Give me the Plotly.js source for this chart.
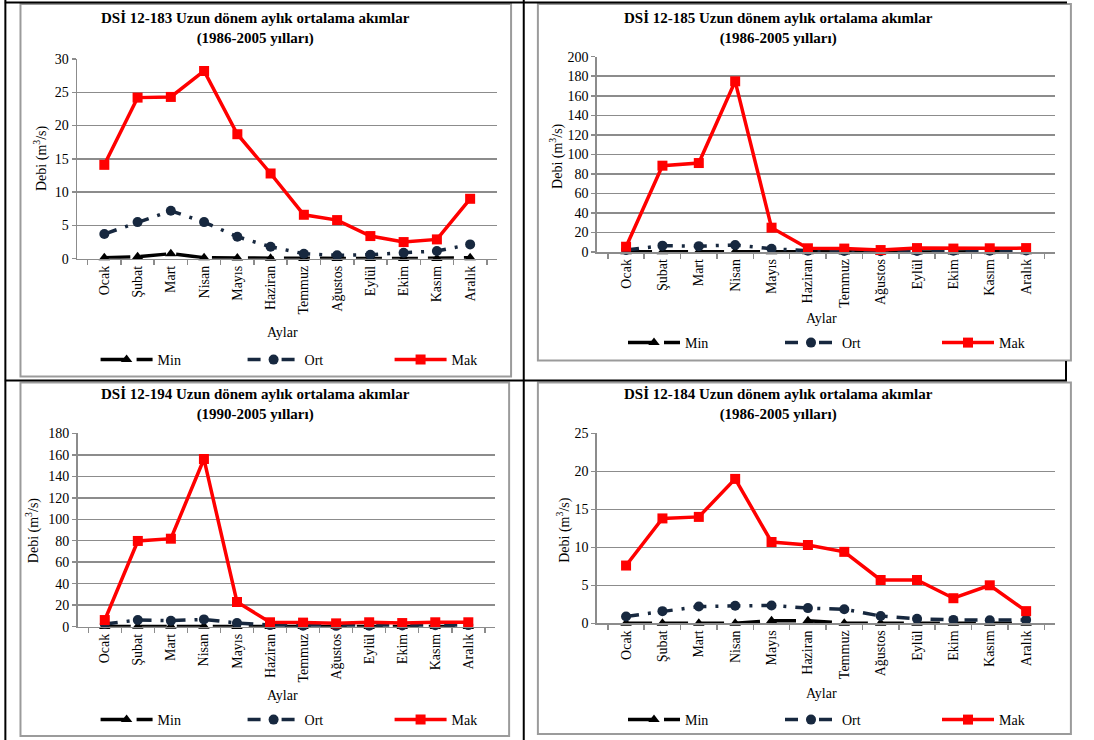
<!DOCTYPE html>
<html>
<head>
<meta charset="utf-8">
<script src="https://cdn.plot.ly/plotly-3.0.1.min.js"></script>
<style>html,body{margin:0;padding:0;background:#fff;}#chart{width:1094px;height:740px;}</style>
</head>
<body>
<div id="chart"></div>
<script>
const months = ['Ocak','Şubat','Mart','Nisan','Mayıs','Haziran','Temmuz','Ağustos','Eylül','Ekim','Kasım','Aralık'];
const seriesNames = ['Min','Ort','Mak'];

// DSİ 12-183
const min183 = [0.15, 0.3, 0.75, 0.15, 0.1, 0.05, 0.02, 0.02, 0.02, 0.02, 0.02, 0.15];
const ort183 = [3.7, 5.5, 7.2, 5.5, 3.3, 1.8, 0.75, 0.5, 0.6, 0.9, 1.15, 2.15];
const mak183 = [14.1, 24.2, 24.3, 28.2, 18.7, 12.8, 6.6, 5.8, 3.4, 2.5, 2.9, 9.0];
// DSİ 12-185
const min185 = [0.2, 0.3, 0.4, 0.5, 0.3, 0.2, 0.1, 0.1, 0.1, 0.1, 0.2, 0.2];
const ort185 = [2.0, 6.5, 6.0, 7.2, 3.4, 1.2, 1.0, 0.8, 1.0, 1.2, 1.3, 1.5];
const mak185 = [5.4, 88.4, 91.1, 174.8, 24.9, 3.8, 3.5, 2.0, 4.0, 3.5, 3.8, 4.0];
// DSİ 12-194
const min194 = [0.3, 0.4, 0.5, 0.5, 0.3, 0.2, 0.1, 0.1, 0.1, 0.1, 0.2, 0.2];
const ort194 = [2.5, 6.2, 5.6, 6.8, 3.4, 1.5, 1.0, 0.8, 1.0, 1.2, 1.3, 1.5];
const mak194 = [6.2, 79.8, 81.9, 156.1, 23.0, 4.1, 3.8, 3.1, 4.1, 3.4, 4.1, 4.1];
// DSİ 12-184
const min184 = [0.02, 0.02, 0.02, 0.02, 0.35, 0.35, 0.02, 0.02, 0.02, 0.02, 0.02, 0.02];
const ort184 = [0.9, 1.6, 2.2, 2.3, 2.35, 2.0, 1.85, 0.95, 0.6, 0.45, 0.4, 0.45];
const mak184 = [7.6, 13.8, 14.0, 19.0, 10.7, 10.3, 9.4, 5.7, 5.7, 3.3, 5.0, 1.6];

const titles = [
  'DSİ 12-183 Uzun dönem aylık ortalama akımlar<br>(1986-2005 yılları)',
  'DSİ 12-185 Uzun dönem aylık ortalama akımlar<br>(1986-2005 yılları)',
  'DSİ 12-194 Uzun dönem aylık ortalama akımlar<br>(1990-2005 yılları)',
  'DSİ 12-184 Uzun dönem aylık ortalama akımlar<br>(1986-2005 yılları)'
];
const yTitle = 'Debi (m<sup>3</sup>/s)';
const xTitle = 'Aylar';

const W = 1094, H = 740;
const px = v => v / W;
const py = v => 1 - v / H;
const FONT = '"Liberation Serif", serif';
const GRID = '#8c8c8c';
const NAVY = '#17283f';

const panels = [
  {data:[min183, ort183, mak183], ymax:30, dtick:5, x0:79, x1:510, y0:258.7, y1:59, tx:262, ty:28, ytx:41, yty:158, ax:290, ay:333, lx:98, ly:360, ew:80},
  {data:[min185, ort185, mak185], ymax:200, dtick:20, x0:612, x1:1082, y0:252, y1:56.7, tx:798, ty:28, ytx:570, yty:156, ax:842, ay:319, lx:639, ly:343, ew:90},
  {data:[min194, ort194, mak194], ymax:180, dtick:20, x0:79.6, x1:508, y0:626.7, y1:433.3, tx:262, ty:405, ytx:33, yty:530, ax:290, ay:695, lx:98, ly:720, ew:80},
  {data:[min184, ort184, mak184], ymax:25, dtick:5, x0:612, x1:1082, y0:623.3, y1:433.3, tx:798, ty:405, ytx:577, yty:530, ax:842, ay:693, lx:639, ly:720, ew:90}
];

const styles = [
  {line:{color:'#000000', width:3.5, dash:'26px,10px'}, marker:{symbol:'triangle-up', size:10, color:'#000000'}},
  {line:{color:NAVY, width:3.5, dash:'13px,9px,3px,9px'}, marker:{symbol:'circle', size:10, color:NAVY}},
  {line:{color:'#ff0000', width:3.5}, marker:{symbol:'square', size:10, color:'#ff0000'}}
];

const traces = [];
const layout = {
  width: W, height: H,
  margin: {l:0, r:0, t:0, b:0},
  paper_bgcolor: '#ffffff',
  plot_bgcolor: 'rgba(0,0,0,0)',
  font: {family: FONT, size: 14, color: '#000000'},
  annotations: [],
  shapes: []
};

panels.forEach((p, i) => {
  const n = i + 1;
  const xa = n === 1 ? 'x' : 'x' + n;
  const ya = n === 1 ? 'y' : 'y' + n;
  const legName = n === 1 ? 'legend' : 'legend' + n;
  p.data.forEach((arr, k) => {
    traces.push({
      type: 'scatter', mode: 'lines+markers',
      x: months, y: arr, name: seriesNames[k],
      xaxis: xa, yaxis: ya, legend: legName,
      line: styles[k].line, marker: styles[k].marker,
      cliponaxis: false, hoverinfo: 'x+y+name'
    });
  });
  layout[n === 1 ? 'xaxis' : 'xaxis' + n] = {
    type: 'category', domain: [px(p.x0), px(p.x1)], anchor: ya,
    showgrid: false, showline: true, linecolor: GRID, linewidth: 1.5,
    ticks: 'outside', tickson: 'boundaries', ticklen: 5, tickcolor: GRID, tickwidth: 1.5,
    tickangle: -90, tickfont: {family: FONT, size: 14, color: '#000'},
    zeroline: false, fixedrange: true
  };
  layout[n === 1 ? 'yaxis' : 'yaxis' + n] = {
    domain: [py(p.y0), py(p.y1)], anchor: xa, range: [0, p.ymax], dtick: p.dtick,
    showgrid: true, gridcolor: GRID, gridwidth: 1.5,
    showline: true, linecolor: GRID, linewidth: 1.5,
    ticks: 'outside', ticklen: 4, tickcolor: GRID, tickwidth: 1.5,
    tickfont: {family: FONT, size: 14, color: '#000'},
    zeroline: false, fixedrange: true
  };
  layout[legName] = {
    orientation: 'h', x: px(p.lx), xanchor: 'left', y: py(p.ly), yanchor: 'middle',
    itemwidth: 52, entrywidth: p.ew, entrywidthmode: 'pixels',
    font: {family: FONT, size: 14, color: '#000'},
    bgcolor: 'rgba(0,0,0,0)', borderwidth: 0
  };
  layout.annotations.push({
    xref: 'paper', yref: 'paper', x: px(p.tx), y: py(p.ty), xanchor: 'center', yanchor: 'middle',
    text: '<b>' + titles[i] + '</b>', showarrow: false, align: 'center',
    font: {family: FONT, size: 15, color: '#000'}
  });
  layout.annotations.push({
    xref: 'paper', yref: 'paper', x: px(p.ytx), y: py(p.yty), xanchor: 'center', yanchor: 'middle',
    text: yTitle, textangle: -90, showarrow: false,
    font: {family: FONT, size: 14, color: '#000'}
  });
  layout.annotations.push({
    xref: 'paper', yref: 'paper', x: px(p.ax), y: py(p.ay), xanchor: 'center', yanchor: 'middle',
    text: xTitle, showarrow: false,
    font: {family: FONT, size: 14, color: '#000'}
  });
});

// table frame lines (black)
const blk = {color: '#000000', width: 2};
const gry = {color: '#9b9b9b', width: 2};
function line(x0, y0, x1, y1, ln) {
  layout.shapes.push({type: 'line', xref: 'paper', yref: 'paper', x0: px(x0), y0: py(y0), x1: px(x1), y1: py(y1), line: ln, layer: 'above'});
}
function rect(x0, y0, x1, y1, ln) {
  layout.shapes.push({type: 'rect', xref: 'paper', yref: 'paper', x0: px(x0), y0: py(y0), x1: px(x1), y1: py(y1), line: ln, layer: 'below', fillcolor: 'rgba(0,0,0,0)'});
}
line(5, 2.5, 1094, 2.5, blk);
line(5.5, 0, 5.5, 740, blk);
line(537, 0, 537, 740, blk);
line(5, 380.5, 1094, 380.5, blk);
line(1093, 361, 1093, 381, blk);
// chart area borders (gray)
rect(21, 4, 524, 376.5, gry);
rect(551.5, 4, 1098, 360.5, gry);
rect(21, 382.5, 522, 736, gry);
rect(551.5, 382.5, 1098, 734, gry);

Plotly.newPlot('chart', traces, layout, {staticPlot: true, displayModeBar: false});
</script>
</body>
</html>
